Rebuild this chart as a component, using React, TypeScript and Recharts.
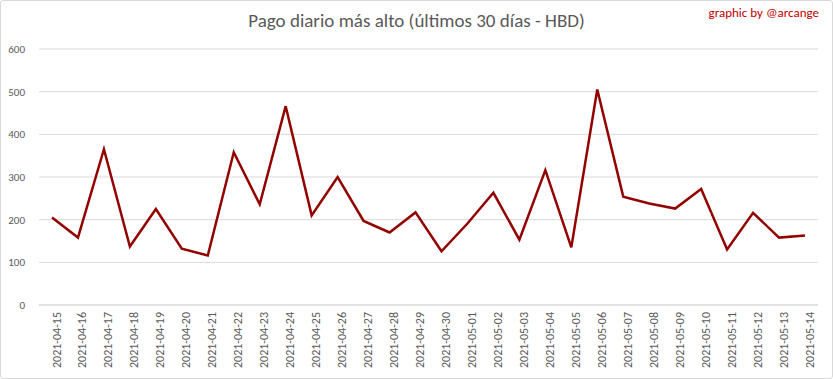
import { LineChart, Line, XAxis, YAxis, CartesianGrid } from 'recharts';

const dates = [
  '2021-04-15', '2021-04-16', '2021-04-17', '2021-04-18', '2021-04-19', '2021-04-20',
  '2021-04-21', '2021-04-22', '2021-04-23', '2021-04-24', '2021-04-25', '2021-04-26',
  '2021-04-27', '2021-04-28', '2021-04-29', '2021-04-30', '2021-05-01', '2021-05-02',
  '2021-05-03', '2021-05-04', '2021-05-05', '2021-05-06', '2021-05-07', '2021-05-08',
  '2021-05-09', '2021-05-10', '2021-05-11', '2021-05-12', '2021-05-13', '2021-05-14',
];

const maxPayout = [
  205, 158, 365, 137, 225, 132, 116, 358, 236, 466, 210, 300, 197, 170, 217,
  126, 191, 263, 153, 316, 135, 505, 254, 238, 226, 272, 130, 216, 158, 163,
];

const yTicks = [0, 100, 200, 300, 400, 500, 600];

const FONT = 'Carlito, "Liberation Sans Narrow", "Liberation Sans", sans-serif';

const data = dates.map((d, i) => ({ date: d, value: maxPayout[i] }));

export default function App() {
  return (
    <div
      style={{
        position: 'absolute',
        left: 0,
        top: 0,
        width: 833,
        height: 379,
        background: '#fff',
        fontFamily: FONT,
      }}
    >
      <div
        style={{
          position: 'absolute',
          inset: 0,
          border: '1px solid #d9d9d9',
          borderRadius: 3,
          boxSizing: 'border-box',
          pointerEvents: 'none',
        }}
      />
      <div
        style={{
          position: 'absolute',
          top: 9,
          left: 0,
          width: 833,
          textAlign: 'center',
          fontSize: 19,
          fontWeight: 300,
          color: '#595959',
        }}
      >
        Pago diario más alto (últimos 30 días - HBD)
      </div>
      <div
        style={{
          position: 'absolute',
          top: 5,
          right: 14,
          fontSize: 13,
          color: '#c00000',
        }}
      >
        graphic by @arcange
      </div>
      <LineChart width={833} height={379} data={data} margin={{ top: 49, right: 15, bottom: 4, left: 0 }}>
        <CartesianGrid vertical={false} stroke="#d9d9d9" />
        <XAxis
          dataKey="date"
          interval={0}
          angle={-90}
          textAnchor="end"
          height={70}
          padding={{ left: 13, right: 13 }}
          tickLine={false}
          axisLine={{ stroke: '#d9d9d9' }}
          tick={{ fontSize: 12, fill: '#595959', fontFamily: FONT }}
          tickMargin={1}
        />
        <YAxis
          domain={[0, 600]}
          ticks={yTicks}
          width={39}
          tickLine={false}
          axisLine={false}
          tick={{ fontSize: 11, fill: '#595959', fontFamily: FONT }}
          tickMargin={8}
        />
        <Line
          type="linear"
          dataKey="value"
          stroke="#920000"
          strokeWidth={2.5}
          dot={false}
          isAnimationActive={false}
        />
      </LineChart>
    </div>
  );
}
